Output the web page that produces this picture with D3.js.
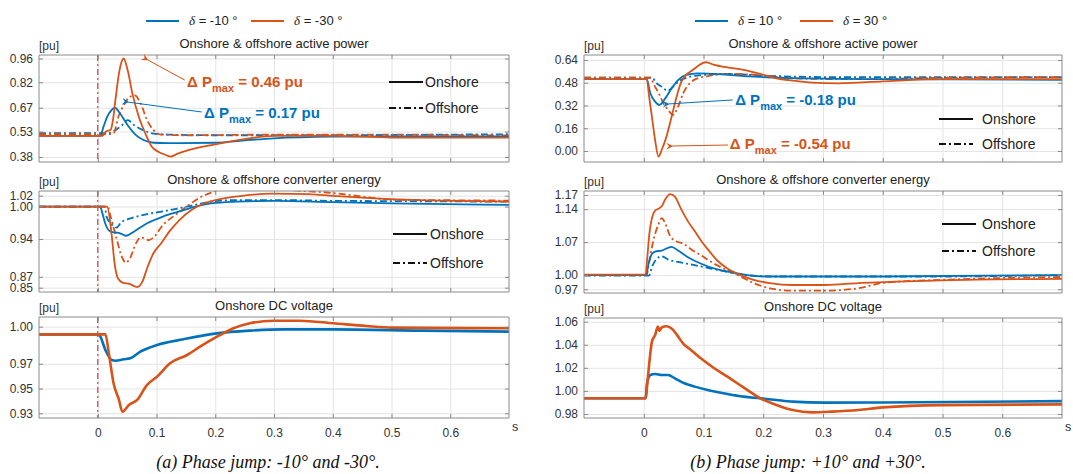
<!DOCTYPE html>
<html>
<head>
<meta charset="utf-8">
<script src="https://cdn.jsdelivr.net/npm/d3@7"></script>
<style>
  body { margin: 0; background: #fff; }
  text { font-family: "Liberation Sans", Arial, Helvetica, sans-serif; }
</style>
</head>
<body>
<svg id="chart" width="1073" height="474"></svg>
<script>
// ---- data: [time s, value pu] ----
const xTicks = [0, 0.1, 0.2, 0.3, 0.4, 0.5, 0.6];

// (a) left: phase jump -10 / -30 deg
const apLeftTicks = [0.38, 0.53, 0.67, 0.82, 0.96];
const apL_blueOn = [[-0.1,0.505],[0.004,0.505],[0.010,0.56],[0.016,0.616],[0.023,0.655],[0.029,0.67],[0.038,0.636],[0.051,0.567],[0.065,0.509],[0.078,0.48],[0.095,0.464],[0.12,0.462],[0.2,0.464],[0.25,0.478],[0.3,0.49],[0.4,0.5],[0.5,0.502],[0.7,0.502]];
const apL_blueOff = [[-0.1,0.52],[0.018,0.52],[0.03,0.538],[0.041,0.567],[0.051,0.597],[0.062,0.567],[0.076,0.54],[0.095,0.518],[0.12,0.512],[0.2,0.508],[0.3,0.508],[0.5,0.51],[0.7,0.514]];
const apL_orangeOn = [[-0.1,0.505],[0.008,0.505],[0.014,0.53],[0.022,0.54],[0.026,0.6],[0.030,0.714],[0.037,0.89],[0.044,0.96],[0.051,0.89],[0.059,0.753],[0.070,0.616],[0.081,0.519],[0.092,0.44],[0.103,0.411],[0.116,0.392],[0.124,0.382],[0.135,0.398],[0.154,0.42],[0.2,0.455],[0.25,0.485],[0.3,0.505],[0.4,0.505],[0.5,0.495],[0.7,0.494]];
const apL_orangeOff = [[-0.1,0.515],[0.02,0.515],[0.027,0.52],[0.035,0.616],[0.046,0.695],[0.054,0.733],[0.063,0.743],[0.073,0.695],[0.084,0.597],[0.095,0.538],[0.108,0.512],[0.15,0.508],[0.3,0.512],[0.5,0.512],[0.7,0.506]];

const enLeftTicks = [0.85, 0.87, 0.94, 1.00, 1.02];
const enL_blueOn = [[-0.1,1.0],[0.004,1.0],[0.007,0.991],[0.0126,0.969],[0.021,0.954],[0.029,0.952],[0.037,0.951],[0.048,0.946],[0.062,0.954],[0.084,0.969],[0.111,0.9815],[0.139,0.991],[0.166,1.0],[0.193,1.006],[0.237,1.009],[0.303,1.0105],[0.4,1.008],[0.5,1.006],[0.7,1.003]];
const enL_blueOff = [[-0.1,1.0],[0.012,1.0],[0.015,0.981],[0.0236,0.967],[0.032,0.961],[0.04,0.971],[0.056,0.978],[0.084,0.986],[0.111,0.991],[0.139,0.997],[0.166,1.003],[0.193,1.009],[0.237,1.012],[0.303,1.012],[0.4,1.0105],[0.5,1.01],[0.7,1.009]];
const enL_orangeOn = [[-0.1,1.0],[0.016,1.0],[0.0236,0.948],[0.029,0.892],[0.0345,0.867],[0.043,0.859],[0.054,0.857],[0.062,0.853],[0.067,0.851],[0.076,0.861],[0.084,0.886],[0.095,0.914],[0.108,0.932],[0.122,0.954],[0.139,0.975],[0.16,0.994],[0.182,1.006],[0.21,1.014],[0.248,1.02],[0.298,1.024],[0.358,1.023],[0.4,1.0198],[0.5,1.0136],[0.7,1.009]];
const enL_orangeOff = [[-0.1,1.0],[0.017,1.0],[0.021,0.985],[0.032,0.941],[0.04,0.91],[0.048,0.896],[0.056,0.907],[0.065,0.932],[0.073,0.943],[0.087,0.938],[0.095,0.943],[0.111,0.966],[0.133,0.985],[0.155,1.003],[0.177,1.0185],[0.2,1.028],[0.23,1.034],[0.28,1.036],[0.32,1.031],[0.4,1.025],[0.45,1.0185],[0.5,1.013],[0.7,1.011]];

const dcLeftTicks = [0.93, 0.95, 0.97, 1.00];
const dcL_blue = [[-0.1,0.9938],[0.002,0.9938],[0.0045,0.9919],[0.013,0.9812],[0.024,0.973],[0.03,0.9725],[0.044,0.9736],[0.0555,0.9744],[0.0725,0.9798],[0.101,0.9852],[0.146,0.9898],[0.203,0.9946],[0.259,0.9968],[0.316,0.9978],[0.4,0.9978],[0.55,0.9968],[0.7,0.996]];
const dcL_orange = [[-0.1,0.9938],[0.013,0.9938],[0.019,0.978],[0.027,0.954],[0.036,0.941],[0.042,0.9313],[0.053,0.9367],[0.067,0.9408],[0.084,0.953],[0.101,0.9596],[0.123,0.9704],[0.152,0.9771],[0.174,0.9838],[0.203,0.9919],[0.231,0.9987],[0.259,1.0027],[0.299,1.0048],[0.344,1.0048],[0.401,1.0027],[0.457,1.0005],[0.5,0.9992],[0.7,0.9987]];

// (b) right: phase jump +10 / +30 deg
const apRightTicks = [0.00, 0.16, 0.32, 0.48, 0.64];
const apR_blueOn = [[-0.1,0.505],[0.005,0.505],[0.011,0.406],[0.019,0.347],[0.026,0.324],[0.036,0.37],[0.0466,0.44],[0.0575,0.499],[0.071,0.535],[0.09,0.546],[0.118,0.542],[0.167,0.527],[0.25,0.512],[0.4,0.505],[0.7,0.5]];
const apR_blueOff = [[-0.1,0.515],[0.015,0.515],[0.019,0.488],[0.030,0.452],[0.04,0.424],[0.049,0.452],[0.06,0.495],[0.074,0.518],[0.096,0.534],[0.14,0.542],[0.2,0.53],[0.3,0.52],[0.7,0.52]];
const apR_orangeOn = [[-0.1,0.505],[0.005,0.505],[0.009,0.382],[0.0137,0.24],[0.019,0.077],[0.0247,-0.04],[0.030,0.007],[0.038,0.101],[0.0466,0.241],[0.055,0.382],[0.063,0.487],[0.071,0.535],[0.082,0.57],[0.093,0.605],[0.104,0.624],[0.118,0.605],[0.14,0.588],[0.167,0.57],[0.195,0.542],[0.222,0.511],[0.249,0.495],[0.282,0.481],[0.326,0.476],[0.4,0.49],[0.5,0.505],[0.7,0.505]];
const apR_orangeOff = [[-0.1,0.515],[0.012,0.515],[0.016,0.476],[0.025,0.406],[0.033,0.335],[0.041,0.288],[0.049,0.253],[0.0575,0.312],[0.066,0.406],[0.077,0.476],[0.09,0.511],[0.107,0.527],[0.14,0.542],[0.195,0.534],[0.25,0.511],[0.35,0.505],[0.5,0.515],[0.7,0.52]];

const enRightTicks = [0.97, 1.00, 1.07, 1.14, 1.17];
const enR_blueOn = [[-0.1,1.0],[0.004,1.0],[0.008,1.024],[0.0137,1.045],[0.019,1.05],[0.03,1.052],[0.0466,1.06],[0.0575,1.052],[0.074,1.038],[0.096,1.024],[0.123,1.012],[0.151,1.005],[0.173,1.0],[0.205,0.997],[0.4,0.997],[0.7,1.0]];
const enR_blueOff = [[-0.1,0.999],[0.009,0.999],[0.0137,1.017],[0.022,1.035],[0.03,1.04],[0.041,1.033],[0.0575,1.028],[0.085,1.021],[0.112,1.014],[0.14,1.007],[0.17,1.0],[0.22,0.997],[0.5,0.997],[0.7,1.0]];
const enR_orangeOn = [[-0.1,1.001],[0.003,1.001],[0.0055,1.031],[0.0093,1.087],[0.0137,1.121],[0.019,1.137],[0.0247,1.141],[0.03,1.146],[0.0356,1.16],[0.044,1.172],[0.052,1.1665],[0.063,1.139],[0.074,1.114],[0.085,1.094],[0.096,1.073],[0.107,1.055],[0.123,1.031],[0.14,1.014],[0.162,1.0],[0.184,0.99],[0.211,0.983],[0.249,0.979],[0.304,0.979],[0.359,0.983],[0.403,0.985],[0.5,0.989],[0.7,0.992]];
const enR_orangeOff = [[-0.1,1.0],[0.005,1.0],[0.008,1.02],[0.016,1.073],[0.0247,1.108],[0.03,1.121],[0.0356,1.111],[0.044,1.083],[0.052,1.073],[0.066,1.067],[0.079,1.055],[0.096,1.042],[0.118,1.024],[0.14,1.01],[0.162,0.997],[0.184,0.983],[0.211,0.972],[0.249,0.967],[0.304,0.967],[0.359,0.972],[0.403,0.984],[0.5,0.99],[0.7,0.996]];

const dcRightTicks = [0.98, 1.00, 1.02, 1.04, 1.06];
const dcR_blue = [[-0.1,0.9936],[0.003,0.9936],[0.0055,1.0066],[0.011,1.0138],[0.019,1.0147],[0.03,1.0138],[0.041,1.0138],[0.052,1.0109],[0.068,1.0066],[0.085,1.0037],[0.112,1.0002],[0.14,0.9973],[0.167,0.995],[0.195,0.9936],[0.222,0.9921],[0.249,0.9907],[0.304,0.9898],[0.4,0.99],[0.7,0.9911]];
const dcR_orange = [[-0.1,0.9936],[0.003,0.9936],[0.007,1.0123],[0.011,1.0326],[0.0137,1.0427],[0.019,1.0484],[0.0236,1.0557],[0.026,1.052],[0.03,1.055],[0.038,1.056],[0.0466,1.054],[0.055,1.049],[0.066,1.041],[0.079,1.0355],[0.096,1.028],[0.118,1.0196],[0.14,1.0123],[0.167,1.003],[0.195,0.9936],[0.222,0.9878],[0.249,0.9834],[0.282,0.9814],[0.315,0.982],[0.359,0.9834],[0.4,0.9857],[0.5,0.9877],[0.7,0.9883]];

const BLUE = "#0072BD";
const ORANGE = "#D95319";
const DASHDOT = "7,3,2,3";

const svg = d3.select("#chart");
svg.append("rect").attr("width", 1073).attr("height", 474).attr("fill", "#fff");

// markers for the annotation arrows
const defs = svg.append("defs");
[["arrBlue", BLUE], ["arrOrange", ORANGE]].forEach(function (m) {
  defs.append("marker")
    .attr("id", m[0])
    .attr("viewBox", "0 0 10 10")
    .attr("refX", 1).attr("refY", 5)
    .attr("markerWidth", 9).attr("markerHeight", 7)
    .attr("orient", "auto-start-reverse")
    .attr("markerUnits", "userSpaceOnUse")
    .append("path")
    .attr("d", "M10,0 L0,5 L10,10 L6,5 Z")
    .attr("fill", m[1]);
});

let clipId = 0;

function drawPanel(p) {
  const x = d3.scaleLinear().domain([-0.1, 0.7]).range([p.x0, p.x1]);
  const y = d3.scaleLinear().domain(p.domain).range([p.y1, p.y0]);
  const g = svg.append("g");
  const w = p.x1 - p.x0, h = p.y1 - p.y0;

  // grid
  g.append("g").attr("transform", "translate(0," + p.y1 + ")")
    .call(d3.axisBottom(x).tickValues(xTicks).tickSize(-h).tickFormat(""))
    .call(s => s.select(".domain").remove())
    .selectAll("line").attr("stroke", "#e4e4e4");
  g.append("g").attr("transform", "translate(" + p.x0 + ",0)")
    .call(d3.axisLeft(y).tickValues(p.ticks).tickSize(-w).tickFormat(""))
    .call(s => s.select(".domain").remove())
    .selectAll("line").attr("stroke", "#e4e4e4");

  // lines
  const id = "clip" + (clipId++);
  svg.select("defs").append("clipPath").attr("id", id)
    .append("rect").attr("x", p.x0).attr("y", p.y0).attr("width", w).attr("height", h);
  const line = d3.line().x(d => x(d[0])).y(d => y(d[1])).curve(d3.curveMonotoneX);
  const lg = g.append("g").attr("clip-path", "url(#" + id + ")");

  if (p.zeroLine) {
    lg.append("line")
      .attr("x1", x(0)).attr("x2", x(0)).attr("y1", p.y0).attr("y2", p.y1)
      .attr("stroke", "#e0474c").attr("stroke-width", 1.3)
      .attr("stroke-dasharray", "6,3,2,3");
  }

  p.series.forEach(function (s) {
    lg.append("path")
      .datum(s.data)
      .attr("d", line)
      .attr("fill", "none")
      .attr("stroke", s.color)
      .attr("stroke-width", p.lw)
      .attr("stroke-linejoin", "round")
      .attr("stroke-dasharray", s.dash ? DASHDOT : null);
  });

  // axes, MATLAB style box with inward ticks
  const axColor = "#8a8a8a";
  const left = g.append("g").attr("transform", "translate(" + p.x0 + ",0)")
    .call(d3.axisLeft(y).tickValues(p.ticks).tickSize(-4).tickPadding(6).tickFormat(d3.format(".2f")));
  const right = g.append("g").attr("transform", "translate(" + p.x1 + ",0)")
    .call(d3.axisRight(y).tickValues(p.ticks).tickSize(-4).tickFormat(""));
  const top = g.append("g").attr("transform", "translate(0," + p.y0 + ")")
    .call(d3.axisTop(x).tickValues(xTicks).tickSize(-4).tickFormat(""));
  const bottom = g.append("g").attr("transform", "translate(0," + p.y1 + ")")
    .call(d3.axisBottom(x).tickValues(xTicks).tickSize(-4).tickPadding(10)
      .tickFormat(p.xLabels ? d3.format("") : ""));
  [left, right, top, bottom].forEach(function (a) {
    a.selectAll(".domain").attr("stroke", axColor).attr("stroke-width", 1);
    a.selectAll("line").attr("stroke", axColor);
    a.selectAll("text").attr("fill", "#333").style("font-size", "12px");
  });
  left.select(".domain").attr("d", "M0," + p.y0 + "V" + p.y1);
  right.select(".domain").attr("d", "M0," + p.y0 + "V" + p.y1);
  top.select(".domain").attr("d", "M" + p.x0 + ",0H" + p.x1);
  bottom.select(".domain").attr("d", "M" + p.x0 + ",0H" + p.x1);

  // title and unit
  g.append("text")
    .attr("x", (p.x0 + p.x1) / 2).attr("y", p.y0 - 7)
    .attr("text-anchor", "middle").attr("fill", "#222")
    .style("font-size", "13px").text(p.title);
  g.append("text")
    .attr("x", p.x0).attr("y", p.y0 - 5)
    .attr("fill", "#333").style("font-size", "12px").text("[pu]");

  if (p.xLabels) {
    g.append("text")
      .attr("x", p.x1 + 3).attr("y", p.y1 + 13)
      .attr("fill", "#333").style("font-size", "12.5px").text("s");
  }

  // onshore / offshore line-style legend
  if (p.styleLegend) {
    const L = p.styleLegend;
    [["Onshore", null, L.y1], ["Offshore", DASHDOT, L.y2]].forEach(function (r) {
      g.append("line")
        .attr("x1", L.x).attr("x2", L.x + 34).attr("y1", r[2]).attr("y2", r[2])
        .attr("stroke", "#111").attr("stroke-width", 2.2)
        .attr("stroke-dasharray", r[1]);
      g.append("text")
        .attr("x", L.x + L.gap).attr("y", r[2] + 5)
        .attr("fill", "#222").style("font-size", "14px").text(r[0]);
    });
  }

  // delta P annotations
  (p.notes || []).forEach(function (n) {
    g.append("line")
      .attr("x1", x(n.from[0])).attr("y1", y(n.from[1]))
      .attr("x2", x(n.to[0])).attr("y2", y(n.to[1]))
      .attr("stroke", n.color).attr("stroke-width", 1)
      .attr("marker-end", "url(#" + (n.color === BLUE ? "arrBlue" : "arrOrange") + ")");
    const t = g.append("text")
      .attr("x", x(n.at[0])).attr("y", y(n.at[1]))
      .attr("fill", n.color).style("font-size", "15px").style("font-weight", "bold");
    t.append("tspan").text("Δ P");
    t.append("tspan").attr("dy", 5).style("font-size", "11px").text("max");
    t.append("tspan").attr("dy", -5).text(" = " + n.label);
  });
}

function drawLegend(cx, labels) {
  const g = svg.append("g");
  [[BLUE, labels[0], cx - 128], [ORANGE, labels[1], cx - 23]].forEach(function (d) {
    g.append("line")
      .attr("x1", d[2]).attr("x2", d[2] + 33).attr("y1", 21).attr("y2", 21)
      .attr("stroke", d[0]).attr("stroke-width", 2.2);
    const t = g.append("text").attr("x", d[2] + 43).attr("y", 25)
      .attr("fill", "#222").style("font-size", "13px");
    t.append("tspan").style("font-style", "italic")
      .style("font-family", "'Liberation Serif', serif").text("δ");
    t.append("tspan").text(" = " + d[1] + " °");
  });
}

function caption(cx, txt) {
  svg.append("text")
    .attr("x", cx).attr("y", 468)
    .attr("text-anchor", "middle")
    .style("font-family", "'Liberation Serif', 'Times New Roman', serif")
    .style("font-style", "italic").style("font-size", "18px")
    .attr("fill", "#111").text(txt);
}

// ---- left column ----
const LX0 = 39, LX1 = 509;
drawPanel({
  x0: LX0, x1: LX1, y0: 55, y1: 162, domain: [0.3506, 0.9806], ticks: apLeftTicks,
  title: "Onshore & offshore active power", lw: 1.8, zeroLine: true,
  series: [
    { data: apL_blueOff, color: BLUE, dash: true },
    { data: apL_orangeOff, color: ORANGE, dash: true },
    { data: apL_blueOn, color: BLUE },
    { data: apL_orangeOn, color: ORANGE }
  ],
  styleLegend: { x: 389, gap: 36, y1: 82, y2: 108 },
  notes: [
    { color: ORANGE, label: "0.46 pu", at: [0.152, 0.795], from: [0.148, 0.833], to: [0.085, 0.952] },
    { color: BLUE, label: "0.17 pu", at: [0.181, 0.607], from: [0.177, 0.645], to: [0.052, 0.703] }
  ]
});
drawPanel({
  x0: LX0, x1: LX1, y0: 191, y1: 292, domain: [0.842, 1.0287], ticks: enLeftTicks,
  title: "Onshore & offshore converter energy", lw: 1.8, zeroLine: true,
  series: [
    { data: enL_blueOff, color: BLUE, dash: true },
    { data: enL_orangeOff, color: ORANGE, dash: true },
    { data: enL_blueOn, color: BLUE },
    { data: enL_orangeOn, color: ORANGE }
  ],
  styleLegend: { x: 393, gap: 37, y1: 234, y2: 263 }
});
drawPanel({
  x0: LX0, x1: LX1, y0: 317, y1: 418, domain: [0.9262, 1.0078], ticks: dcLeftTicks,
  title: "Onshore DC voltage", lw: 2.6, zeroLine: true, xLabels: true,
  series: [
    { data: dcL_blue, color: BLUE },
    { data: dcL_orange, color: ORANGE }
  ]
});

// ---- right column ----
const RX0 = 584, RX1 = 1062;
drawPanel({
  x0: RX0, x1: RX1, y0: 55, y1: 162, domain: [-0.0774, 0.675], ticks: apRightTicks,
  title: "Onshore & offshore active power", lw: 1.8,
  series: [
    { data: apR_blueOff, color: BLUE, dash: true },
    { data: apR_orangeOff, color: ORANGE, dash: true },
    { data: apR_blueOn, color: BLUE },
    { data: apR_orangeOn, color: ORANGE }
  ],
  styleLegend: { x: 939, gap: 43, y1: 119, y2: 144 },
  notes: [
    { color: BLUE, label: "-0.18 pu", at: [0.153, 0.32], from: [0.149, 0.359], to: [0.042, 0.331] },
    { color: ORANGE, label: "-0.54 pu", at: [0.144, 0.017], from: [0.141, 0.042], to: [0.048, 0.035] }
  ]
});
drawPanel({
  x0: RX0, x1: RX1, y0: 191, y1: 293, domain: [0.962, 1.1785], ticks: enRightTicks,
  title: "Onshore & offshore converter energy", lw: 1.8,
  series: [
    { data: enR_blueOff, color: BLUE, dash: true },
    { data: enR_orangeOff, color: ORANGE, dash: true },
    { data: enR_blueOn, color: BLUE },
    { data: enR_orangeOn, color: ORANGE }
  ],
  styleLegend: { x: 942, gap: 40, y1: 224, y2: 251 }
});
drawPanel({
  x0: RX0, x1: RX1, y0: 318, y1: 418, domain: [0.9765, 1.0632], ticks: dcRightTicks,
  title: "Onshore DC voltage", lw: 2.6, xLabels: true,
  series: [
    { data: dcR_blue, color: BLUE },
    { data: dcR_orange, color: ORANGE }
  ]
});

drawLegend(274, ["-10", "-30"]);
drawLegend(823, ["10", "30"]);
caption(268, "(a) Phase jump: -10° and -30°.");
caption(808, "(b) Phase jump: +10° and +30°.");
</script>
</body>
</html>
